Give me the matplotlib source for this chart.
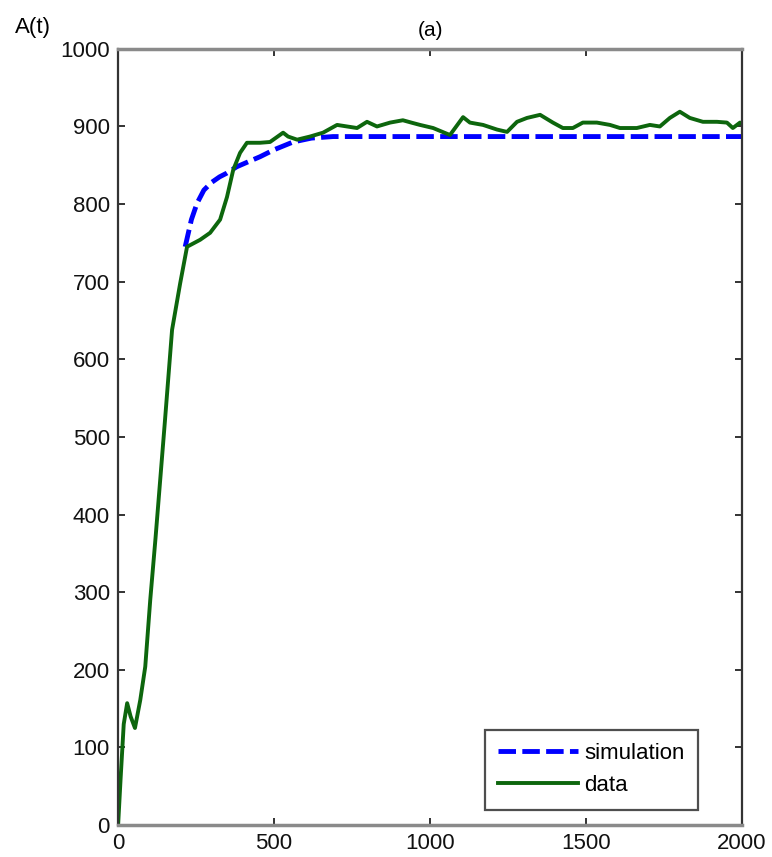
import matplotlib
matplotlib.use("Agg")
import matplotlib.pyplot as plt

plt.rcParams['font.family'] = ['Liberation Sans', 'DejaVu Sans']

# Model output (starts once the fit kicks in)
sim_t = [215, 235, 253, 275, 300, 325, 349, 380, 420, 455, 500, 561, 620, 689, 750, 900,
         1200, 1500, 1800, 2000]
sim_a = [745, 780, 801, 818, 828, 835, 840, 848, 855, 861, 870, 880, 885, 887, 887, 887,
         887, 887, 887, 887]

# Observed values
data_t = [0, 8, 18, 29, 40, 54, 71, 87, 103, 120, 150, 173, 199, 221, 263, 295, 327,
          349, 369, 391, 413, 455, 487, 529, 545, 574, 615, 657, 702, 734, 766, 798,
          830, 872, 913, 940, 968, 1010, 1064, 1106, 1128, 1170, 1215, 1247, 1279,
          1311, 1353, 1394, 1426, 1458, 1490, 1535, 1577, 1609, 1663, 1705, 1737,
          1769, 1801, 1833, 1875, 1920, 1952, 1971, 1994, 2000]
data_a = [0, 60, 130, 157, 140, 125, 161, 204, 290, 370, 520, 638, 698, 745, 754, 763,
          780, 809, 844, 866, 879, 879, 880, 892, 887, 883, 887, 892, 902, 900, 898, 906,
          900, 905, 908, 905, 902, 898, 889, 912, 905, 902, 896, 893, 906, 911, 915, 905,
          898, 898, 905, 905, 902, 898, 898, 902, 900, 911, 919, 911, 906, 906, 905, 898,
          905, 904]

x_ticks = [0, 500, 1000, 1500, 2000]
y_ticks = [0, 100, 200, 300, 400, 500, 600, 700, 800, 900, 1000]

fig = plt.figure(figsize=(7.72, 8.57), dpi=100)
ax = fig.add_axes([0.153, 0.0373, 0.808, 0.9057])

ax.plot(sim_t, sim_a, color=(0, 0, 1), lw=3.5, ls=(0, (3.6, 1.3)), label='simulation')
ax.plot(data_t, data_a, color=(0.05, 0.4, 0.05), lw=2.8, label='data')

ax.set_xlim(0, 2000)
ax.set_ylim(0, 1000)
ax.set_xticks(x_ticks)
ax.set_yticks(y_ticks)
ax.tick_params(direction='in', length=5, width=1.2, top=True, right=True,
               labelsize=16, colors='#111111', pad=6)
for side in ('top', 'bottom'):
    ax.spines[side].set_color('#8a8a8a')
    ax.spines[side].set_linewidth(2.5)
for side in ('left', 'right'):
    ax.spines[side].set_color('#333333')
    ax.spines[side].set_linewidth(1.6)

fig.text(0.557, 1 - 30 / 857, '(a)', fontsize=15, ha='center', va='center')
fig.text(0.019, 1 - 27 / 857, 'A(t)', fontsize=16, ha='left', va='center')

leg = ax.legend(loc='lower right', fontsize=16, frameon=True, fancybox=False,
                edgecolor='#222222', handlelength=3.6, handletextpad=0.3,
                borderpad=0.6, bbox_to_anchor=(0.93, 0.02), labelspacing=0.5,
                borderaxespad=0.0)
leg.get_frame().set_linewidth(1.6)

fig.savefig('out.png', dpi=100)
